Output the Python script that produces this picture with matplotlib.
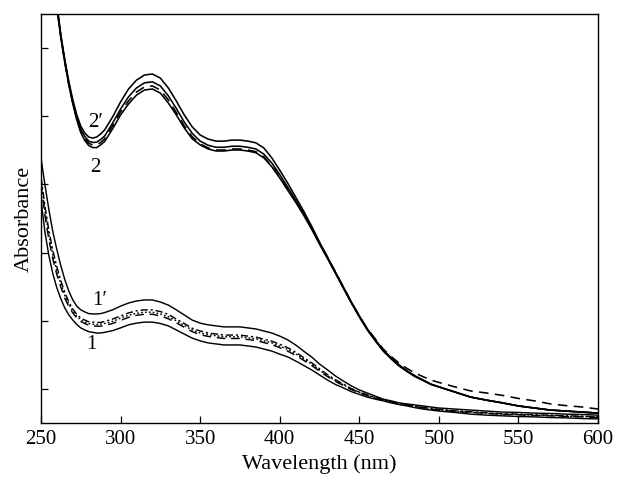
import matplotlib
matplotlib.use("Agg")
import matplotlib.pyplot as plt

plt.rcParams['font.family'] = ['Liberation Serif', 'DejaVu Serif']

wavelength = [250, 252.5, 255, 257.5, 260, 262.5, 265, 267.5, 270, 272.5, 275, 277.5, 280,
              282.5, 285, 287.5, 290,
              295, 300, 305, 310, 315, 320, 325, 330, 335, 340, 345, 350, 355, 360, 365, 370,
              375, 380, 385, 390, 395, 400, 405, 410, 415, 420, 425, 430, 435, 440, 445, 450,
              455, 460, 465, 470, 475, 480, 485, 490, 495, 500,
              510, 520, 530, 540, 550, 560, 570, 580, 590, 600]

# group 2 (upper set of spectra)
curve_2p = [1.652, 1.535, 1.423, 1.329, 1.227, 1.138, 1.065, 1.001, 0.948, 0.904, 0.871, 0.851, 0.839,
            0.836, 0.839, 0.848, 0.860,
            0.898, 0.942, 0.980, 1.006, 1.021, 1.024, 1.012, 0.983, 0.945, 0.904, 0.869, 0.845, 0.833,
            0.827, 0.827, 0.830, 0.830, 0.827, 0.822, 0.807, 0.778, 0.742, 0.704, 0.663, 0.622, 0.578,
            0.531, 0.487, 0.443, 0.399, 0.355, 0.314, 0.276, 0.244, 0.214, 0.191, 0.170, 0.153, 0.138,
            0.126, 0.114, 0.106,
            0.091, 0.076, 0.067, 0.059, 0.050, 0.044, 0.038, 0.035, 0.032, 0.029]
curve_2a = [1.649, 1.532, 1.420, 1.326, 1.224, 1.135, 1.062, 0.997, 0.942, 0.897, 0.862, 0.841, 0.827,
            0.823, 0.824, 0.832, 0.842,
            0.880, 0.921, 0.957, 0.983, 0.998, 1.001, 0.989, 0.960, 0.923, 0.883, 0.850, 0.827, 0.815,
            0.809, 0.809, 0.812, 0.812, 0.809, 0.804, 0.789, 0.763, 0.729, 0.692, 0.654, 0.615, 0.572,
            0.527, 0.484, 0.440, 0.396, 0.352, 0.311, 0.273, 0.241, 0.211, 0.188, 0.167, 0.151, 0.136,
            0.125, 0.113, 0.106,
            0.091, 0.076, 0.067, 0.059, 0.050, 0.044, 0.038, 0.035, 0.032, 0.029]
curve_2b = [1.646, 1.529, 1.417, 1.323, 1.221, 1.132, 1.059, 0.994, 0.939, 0.892, 0.856, 0.835, 0.821,
            0.815, 0.816, 0.823, 0.834,
            0.872, 0.913, 0.945, 0.971, 0.986, 0.989, 0.977, 0.948, 0.911, 0.872, 0.840, 0.819, 0.807,
            0.801, 0.801, 0.804, 0.804, 0.801, 0.796, 0.781, 0.755, 0.721, 0.686, 0.651, 0.613, 0.572,
            0.528, 0.487, 0.443, 0.399, 0.355, 0.314, 0.277, 0.247, 0.217, 0.195, 0.176, 0.160, 0.147,
            0.136, 0.126, 0.119,
            0.106, 0.094, 0.088, 0.081, 0.072, 0.065, 0.056, 0.051, 0.047, 0.041]
curve_2 = [1.643, 1.526, 1.414, 1.320, 1.218, 1.129, 1.056, 0.991, 0.936, 0.889, 0.852, 0.829, 0.814,
           0.808, 0.808, 0.816, 0.826,
           0.863, 0.904, 0.936, 0.962, 0.977, 0.980, 0.968, 0.939, 0.904, 0.866, 0.834, 0.816, 0.804,
           0.798, 0.798, 0.801, 0.801, 0.798, 0.793, 0.778, 0.752, 0.719, 0.683, 0.648, 0.610, 0.569,
           0.525, 0.483, 0.440, 0.396, 0.354, 0.314, 0.276, 0.244, 0.214, 0.191, 0.170, 0.153, 0.138,
           0.126, 0.114, 0.106,
           0.091, 0.076, 0.067, 0.059, 0.050, 0.044, 0.038, 0.035, 0.032, 0.029]

# group 1 (lower set of spectra)
curve_1p = [0.778, 0.698, 0.625, 0.560, 0.508, 0.461, 0.420, 0.387, 0.361, 0.343, 0.332, 0.326, 0.321,
            0.320, 0.320, 0.321, 0.324,
            0.332, 0.343, 0.352, 0.358, 0.361, 0.361, 0.355, 0.346, 0.332, 0.317, 0.302, 0.293, 0.288,
            0.285, 0.282, 0.282, 0.282, 0.279, 0.276, 0.270, 0.264, 0.255, 0.244, 0.229, 0.211, 0.194,
            0.173, 0.156, 0.138, 0.123, 0.109, 0.097, 0.088, 0.079, 0.070, 0.065, 0.059, 0.056, 0.053,
            0.050, 0.047, 0.044,
            0.041, 0.038, 0.035, 0.032, 0.031, 0.029, 0.028, 0.026, 0.025, 0.023]
curve_1a = [0.722, 0.636, 0.564, 0.505, 0.458, 0.417, 0.383, 0.355, 0.334, 0.319, 0.308, 0.302, 0.297,
            0.296, 0.295, 0.295, 0.298,
            0.305, 0.314, 0.323, 0.329, 0.332, 0.332, 0.327, 0.319, 0.305, 0.292, 0.278, 0.270, 0.264,
            0.261, 0.258, 0.258, 0.258, 0.255, 0.252, 0.246, 0.240, 0.231, 0.221, 0.208, 0.192, 0.177,
            0.159, 0.142, 0.127, 0.114, 0.101, 0.091, 0.083, 0.075, 0.068, 0.062, 0.057, 0.053, 0.049,
            0.046, 0.043, 0.040,
            0.036, 0.033, 0.030, 0.027, 0.026, 0.024, 0.023, 0.021, 0.020, 0.018]
curve_1b = [0.710, 0.622, 0.551, 0.492, 0.446, 0.408, 0.374, 0.348, 0.329, 0.313, 0.303, 0.297, 0.292,
            0.290, 0.289, 0.290, 0.292,
            0.298, 0.308, 0.316, 0.322, 0.325, 0.325, 0.320, 0.312, 0.300, 0.286, 0.273, 0.264, 0.259,
            0.256, 0.253, 0.253, 0.253, 0.250, 0.247, 0.241, 0.235, 0.226, 0.216, 0.203, 0.188, 0.173,
            0.155, 0.139, 0.124, 0.112, 0.100, 0.090, 0.081, 0.074, 0.067, 0.062, 0.056, 0.053, 0.049,
            0.045, 0.042, 0.039,
            0.035, 0.032, 0.029, 0.026, 0.025, 0.023, 0.022, 0.020, 0.019, 0.017]
curve_1c = [0.697, 0.608, 0.537, 0.480, 0.435, 0.398, 0.366, 0.341, 0.323, 0.308, 0.298, 0.292, 0.287,
            0.285, 0.284, 0.284, 0.286,
            0.292, 0.301, 0.310, 0.316, 0.319, 0.319, 0.314, 0.306, 0.294, 0.281, 0.268, 0.259, 0.254,
            0.251, 0.248, 0.248, 0.248, 0.245, 0.242, 0.236, 0.230, 0.221, 0.211, 0.198, 0.184, 0.169,
            0.152, 0.136, 0.122, 0.110, 0.098, 0.089, 0.080, 0.073, 0.067, 0.061, 0.056, 0.052, 0.048,
            0.044, 0.041, 0.038,
            0.034, 0.031, 0.028, 0.025, 0.024, 0.022, 0.021, 0.019, 0.018, 0.016]
curve_1 = [0.654, 0.560, 0.490, 0.437, 0.396, 0.364, 0.337, 0.317, 0.302, 0.289, 0.279, 0.273, 0.268,
           0.266, 0.264, 0.264, 0.266,
           0.271, 0.279, 0.288, 0.293, 0.296, 0.296, 0.292, 0.285, 0.273, 0.261, 0.249, 0.241, 0.235,
           0.232, 0.229, 0.229, 0.229, 0.226, 0.223, 0.217, 0.211, 0.202, 0.194, 0.182, 0.169, 0.156,
           0.141, 0.126, 0.113, 0.103, 0.092, 0.084, 0.076, 0.070, 0.065, 0.059, 0.054, 0.050, 0.045,
           0.041, 0.038, 0.035,
           0.031, 0.026, 0.023, 0.021, 0.019, 0.018, 0.016, 0.015, 0.013, 0.012]

x_ticks = [250, 300, 350, 400, 450, 500, 550, 600]
y_ticks = [0.1, 0.3, 0.5, 0.7, 0.9, 1.1]

fig = plt.figure(figsize=(6.21, 5.0), dpi=100)
ax = fig.add_axes([0.066, 0.154, 0.897, 0.818])

lw = 1.15
dash = (0, (6, 4))
dashdot = (0, (5, 2, 1.5, 2))
dotted = (0, (1.2, 1.5))

ax.plot(wavelength, curve_2p, color='black', lw=lw, ls='-')
ax.plot(wavelength, curve_2a, color='black', lw=lw, ls='-')
ax.plot(wavelength, curve_2b, color='black', lw=lw, ls=dash)
ax.plot(wavelength, curve_2, color='black', lw=lw, ls='-')

ax.plot(wavelength, curve_1p, color='black', lw=lw * 0.9, ls='-')
ax.plot(wavelength, curve_1a, color='black', lw=lw * 0.9, ls=dashdot)
ax.plot(wavelength, curve_1b, color='black', lw=lw * 0.9, ls=dotted)
ax.plot(wavelength, curve_1c, color='black', lw=lw * 0.9, ls=dash)
ax.plot(wavelength, curve_1, color='black', lw=lw * 0.9, ls='-')

ax.set_xlim(250, 600)
ax.set_ylim(0, 1.2)
ax.set_xticks(x_ticks)
ax.set_yticks(y_ticks)
ax.set_yticklabels([])
ax.tick_params(axis='both', direction='in', length=5, width=0.9, labelsize=15,
               top=False, right=False)
ax.tick_params(axis='x', pad=5)
for s in ax.spines.values():
    s.set_linewidth(1.0)

ax.set_xlabel('Wavelength (nm)', fontsize=16, labelpad=4)
ax.set_ylabel('Absorbance', fontsize=16, labelpad=2)

ax.text(284.5, 0.883, '2\u2032', fontsize=15, ha='center', va='center')
ax.text(284, 0.751, '2', fontsize=15, ha='center', va='center')
ax.text(287, 0.360, '1\u2032', fontsize=15, ha='center', va='center')
ax.text(281.5, 0.229, '1', fontsize=15, ha='center', va='center')

fig.savefig('out.png', dpi=100)
